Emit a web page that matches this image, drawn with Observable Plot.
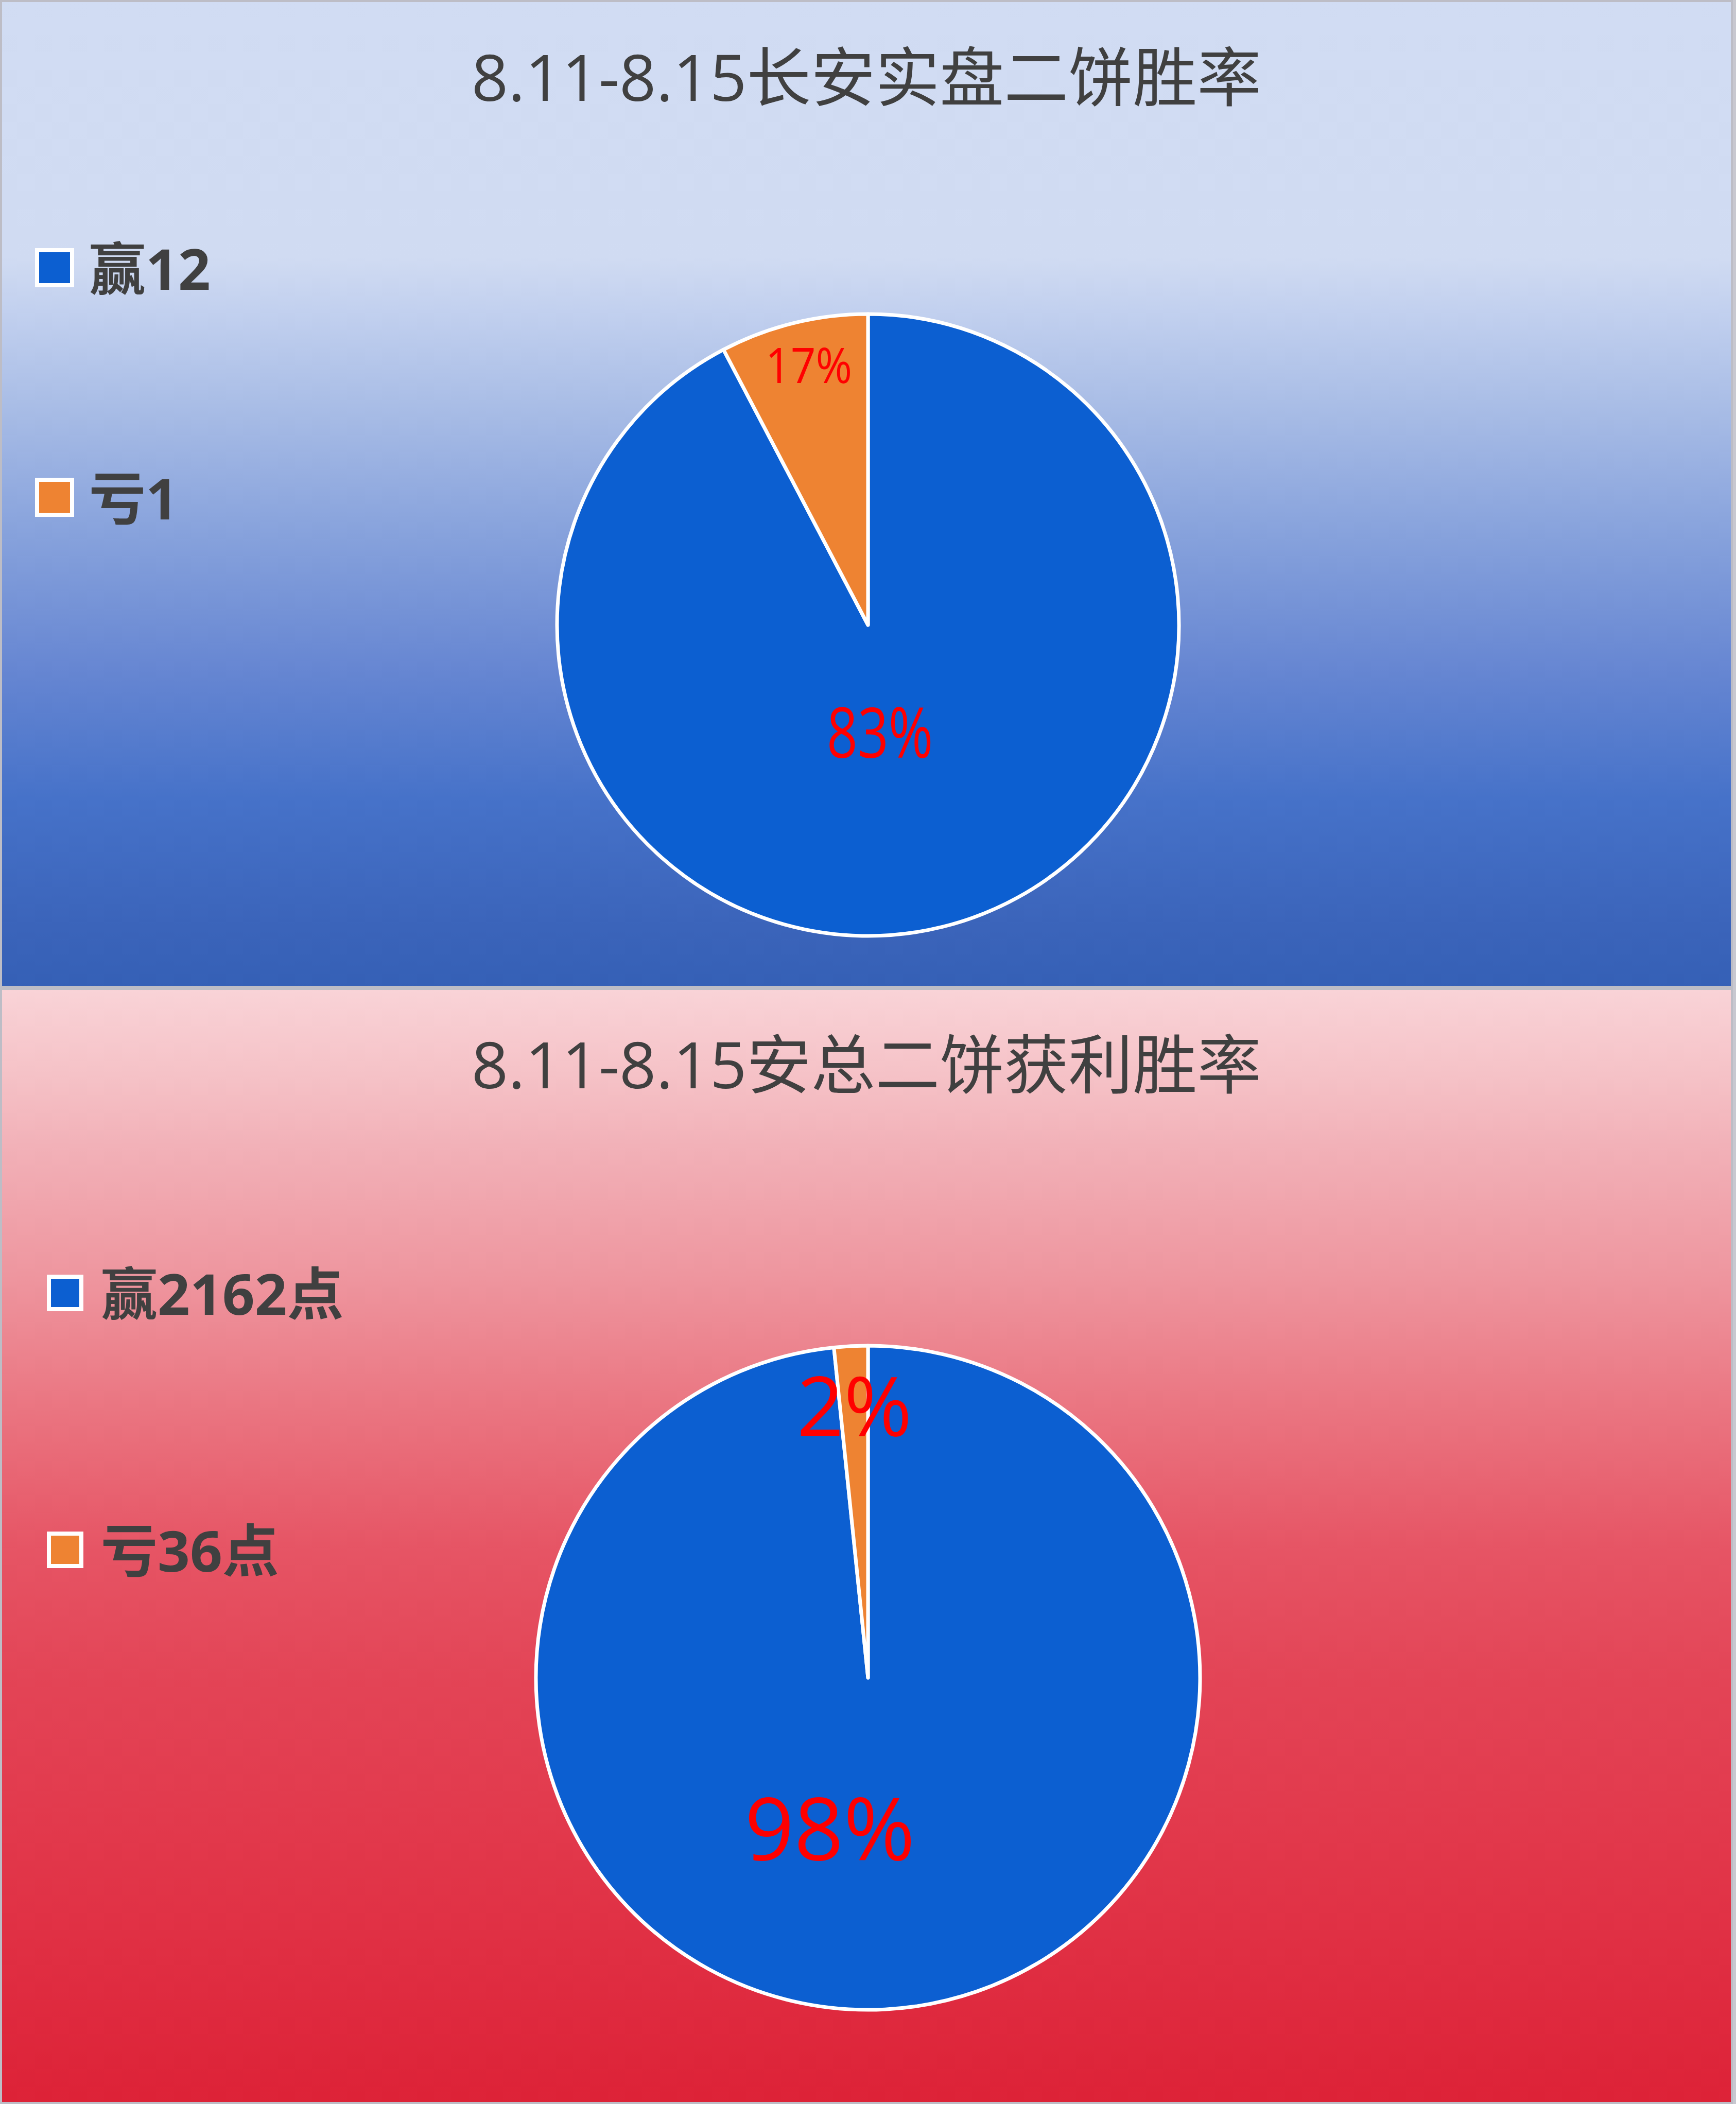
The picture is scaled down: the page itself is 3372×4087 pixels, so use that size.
<!DOCTYPE html>
<html><head><meta charset="utf-8">
<script src="https://cdn.jsdelivr.net/npm/d3@7"></script>
<script src="https://cdn.jsdelivr.net/npm/@observablehq/plot@0.6"></script>
<style>
html,body{margin:0;padding:0;background:#fff;}
#root{position:relative;width:3372px;height:4087px;overflow:hidden;background:#c8c8d0;}
.panel{position:absolute;left:0;box-sizing:border-box;border:4px solid #bdbdc6;overflow:hidden;}
.title{position:absolute;left:0;right:0;text-align:center;font-family:"Open Sans","Noto Sans CJK SC",sans-serif;font-weight:400;color:#404040;font-size:125px;line-height:1;white-space:nowrap;}
.legend-item{position:absolute;display:flex;align-items:center;font-family:"Open Sans","Noto Sans CJK SC",sans-serif;font-weight:700;color:#404040;font-size:110px;line-height:1;white-space:nowrap;}
.sw{box-sizing:border-box;border:8px solid #fff;flex:none;}
.panel svg{position:absolute;left:0;top:0;background:transparent;}
</style></head><body><div id="root"></div>
<script>
// ---- data ----
const categories = ["赢", "亏"];
const sliceColors = ["#0c5fd1", "#ee8332"];
const titles = ["8.11-8.15长安实盘二饼胜率", "8.11-8.15安总二饼获利胜率"];
const chart1Values = [12, 1];
const chart1Labels = ["83%", "17%"];
const chart1Legend = ["赢12", "亏1"];
const chart2Values = [2162, 36];
const chart2Labels = ["98%", "2%"];
const chart2Legend = ["赢2162点", "亏36点"];

const color = Plot.scale({color: {type: "ordinal", domain: categories, range: sliceColors}});

// ---- layout / style ----
const panels = [
  {
    top: 0, height: 1919,
    values: chart1Values, labels: chart1Labels, legend: chart1Legend, title: titles[0],
    bg: "linear-gradient(to bottom, #d1dcf3 0%, #d0dbf2 26%, #c3d1ef 31%, #a9bde6 41%, #87a2dc 54%, #6686d2 68%, #4672c9 81%, #3b64ba 94%, #3560b6 100%)",
    cx: 1682, cy: 1210, r: 604,
    titleCenter: 144,
    legendLeft: 64, legendCenters: [516, 962], sw: 76, gap: 29,
    labelStyle: [{k: 0.365, size: 136, sx: 0.77, dx: -30}, {k: 0.854, size: 95, sx: 0.9, dx: 8}]
  },
  {
    top: 1919, height: 2168,
    values: chart2Values, labels: chart2Labels, legend: chart2Legend, title: titles[1],
    bg: "linear-gradient(to bottom, #f9d3d7 0%, #f5c1c6 8%, #f2b1b8 14%, #ee959e 26%, #ea7480 38%, #e65565 50%, #e34456 62%, #e23a4d 74%, #e02f43 86%, #dd2237 100%)",
    cx: 1682, cy: 1336, r: 645,
    titleCenter: 143,
    legendLeft: 87, legendCenters: [588, 1087], sw: 71, gap: 34,
    labelStyle: [{k: 0.466, size: 168, sx: 1, dx: -90}, {k: 0.81, size: 160, sx: 1, dx: 0}]
  }
];

const root = document.getElementById("root");
const W = 3372;

function pieMark(arcs) {
  return function (...args) {
    const scales = args.find(a => a && typeof a.x === "function" && typeof a.y === "function");
    const cx = scales.x(0), cy = scales.y(0), r = scales.x(1) - scales.x(0);
    const g = d3.create("svg:g").attr("transform", `translate(${cx},${cy})`);
    const arc = d3.arc().innerRadius(0).outerRadius(r);
    g.selectAll("path").data(arcs).join("path")
      .attr("d", arc)
      .attr("fill", d => color.apply(d.data.cat))
      .attr("stroke", "#ffffff")
      .attr("stroke-width", 7)
      .attr("stroke-linejoin", "round");
    return g.node();
  };
}

panels.forEach(p => {
  const div = document.createElement("div");
  div.className = "panel";
  div.style.top = p.top + "px";
  div.style.width = (W - 6) + "px";
  div.style.height = p.height + "px";
  div.style.background = p.bg;
  root.appendChild(div);

  const innerW = W - 6 - 8, innerH = p.height - 8;
  const rows = categories.map((c, i) => ({cat: c, value: p.values[i], label: p.labels[i]}));
  const arcs = d3.pie().sort(null).value(d => d.value).startAngle(0).endAngle(2 * Math.PI)(rows);
  const labelRows = arcs.map((a, i) => {
    const mid = (a.startAngle + a.endAngle) / 2;
    const k = p.labelStyle[i].k;
    return {x: k * Math.sin(mid), y: k * Math.cos(mid), label: a.data.label};
  });

  const svg = Plot.plot({
    width: innerW, height: innerH,
    margin: 0,
    x: {domain: [-1, 1], range: [p.cx - p.r, p.cx + p.r], axis: null},
    y: {domain: [-1, 1], range: [p.cy + p.r, p.cy - p.r], axis: null},
    style: {background: "transparent", overflow: "visible"},
    marks: [
      pieMark(arcs),
      ...labelRows.map((d, i) => Plot.text([d], {
        x: "x", y: "y", text: "label",
        fill: "#ff0000",
        fontSize: p.labelStyle[i].size,
        dx: p.labelStyle[i].dx,
        fontFamily: "'Open Sans','Noto Sans CJK SC',sans-serif",
        fontWeight: 400
      }))
    ]
  });
  // horizontal condensation of label glyphs as in the reference
  const texts = svg.querySelectorAll('g[aria-label="text"] text');
  texts.forEach((t, i) => {
    const sx = p.labelStyle[i] ? p.labelStyle[i].sx : 1;
    if (sx !== 1) t.setAttribute("transform", (t.getAttribute("transform") || "") + ` scale(${sx},1)`);
  });
  div.appendChild(svg);

  const title = document.createElement("div");
  title.className = "title";
  title.textContent = p.title;
  title.style.top = (p.titleCenter - 63) + "px";
  div.appendChild(title);

  p.legend.forEach((txt, i) => {
    const item = document.createElement("div");
    item.className = "legend-item";
    item.style.left = p.legendLeft + "px";
    item.style.top = (p.legendCenters[i] - 60) + "px";
    item.style.height = "120px";
    const sw = document.createElement("span");
    sw.className = "sw";
    sw.style.width = p.sw + "px";
    sw.style.height = p.sw + "px";
    sw.style.background = color.apply(categories[i]);
    sw.style.marginRight = p.gap + "px";
    item.appendChild(sw);
    const s = document.createElement("span");
    s.textContent = txt;
    item.appendChild(s);
    div.appendChild(item);
  });
});
</script></body></html>
